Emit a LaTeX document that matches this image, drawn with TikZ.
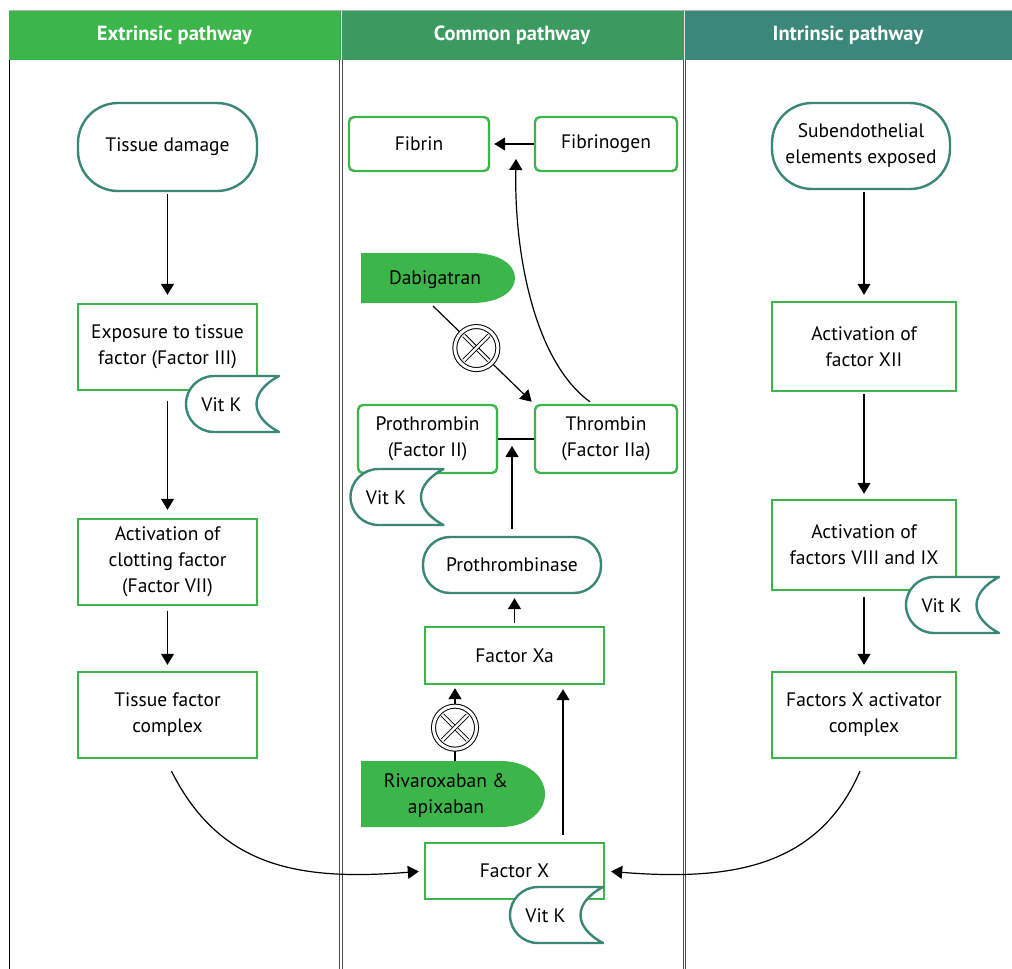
\documentclass[tikz,border=0pt]{standalone}
\usepackage{fontspec}
\setmainfont{PT Sans}
\usetikzlibrary{arrows.meta,calc}
\definecolor{cExt}{HTML}{3CB54A}
\definecolor{cCom}{HTML}{3A9A5F}
\definecolor{cInt}{HTML}{3B877A}
\definecolor{tealB}{HTML}{3A8677}
\definecolor{greenB}{HTML}{3DB54A}
\begin{document}
\begin{tikzpicture}[x=1pt,y=-1pt,
 every node/.style={font=\fontsize{19.5}{26}\selectfont, align=center, inner sep=0pt},
 gbox/.style={draw=greenB, line width=2.4pt, fill=white},
 rbox/.style={gbox, rounded corners=5pt},
 tbox/.style={draw=tealB, line width=2.4pt, fill=white},
 arr/.style={-{Triangle[length=11pt,width=13pt]}, line width=1.2pt},
 conn/.style={line width=1.2pt},
 hdr/.style={font=\fontsize{20.5}{22}\selectfont\bfseries, text=white, minimum height=49pt},
 inh/.style={circle, draw=black, double=white, double distance=3pt, line width=1pt, fill=white, minimum size=43pt},
 xl/.style={draw=black, double=white, double distance=2.4pt, line width=0.9pt},
 drug/.style={fill=cExt},
 pics/vitk/.style={code={
   \draw[tealB, line width=2.4pt, fill=white, line join=round]
     (-18.5,-28) -- (46.5,-28) .. controls (16.5,-12) and (16.5,12) .. (46.5,28)
     -- (-18.5,28) .. controls (-34,28) and (-46.5,15.5) .. (-46.5,0)
     .. controls (-46.5,-15.5) and (-34,-28) .. (-18.5,-28) -- cycle;
   \node (-t) at (-11,1) {Vit K};
 }}]
\useasboundingbox (0,0) rectangle (1012,969);
\fill[white] (0,0) rectangle (1012,969);
% header
\draw[gray!60, line width=1pt] (9,10.5) -- (1012,10.5);
\node[hdr, fill=cExt, minimum width=331pt] (h1) at (174.5,35.5) {Extrinsic pathway};
\node[hdr, fill=cCom, minimum width=344pt] (h2) at (512,35.5) {Common pathway};
\node[hdr, fill=cInt, minimum width=328pt] (h3) at (848,35.5) {Intrinsic pathway};
% lanes
\draw[line width=1pt] (9.5,60) -- (9.5,969);
\draw[draw=gray!60!black, double=white, double distance=1.6pt, line width=0.8pt] (341,60) -- (341,969);
\draw[draw=gray!60!black, double=white, double distance=1.6pt, line width=0.8pt] (684.5,60) -- (684.5,969);
\draw[white!80!gray, line width=1pt] (341,11) -- (341,60) (684.5,11) -- (684.5,60);

% extrinsic
\node[tbox, rounded corners=40pt, minimum width=179pt, minimum height=88pt] (tissue) at (167.5,147) {Tissue damage};
\node[gbox, minimum width=179pt, minimum height=86pt] (expo) at (167.5,347) {Exposure to tissue\\factor (Factor III)};
\pic (vk1) at (232.5,404) {vitk};
\node[gbox, minimum width=179pt, minimum height=86pt] (act7) at (167.5,562) {Activation of\\clotting factor\\(Factor VII)};
\node[gbox, minimum width=179pt, minimum height=86pt] (tfc) at (167.5,715) {Tissue factor\\complex};
\draw[arr, shorten <=2pt, shorten >=8pt] (tissue.south) -- (expo.north);
\draw[arr, shorten <=10pt, shorten >=8pt] (expo.south) -- (act7.north);
\draw[arr, shorten <=5pt, shorten >=6pt] (act7.south) -- (tfc.north);

% common
\node[rbox, minimum width=140pt, minimum height=54pt] (fibrin) at (419,144) {Fibrin};
\node[rbox, minimum width=142pt, minimum height=54pt] (fibrinogen) at (606,144) {Fibrinogen};
\draw[arr, shorten >=4pt] (fibrinogen.west) -- (fibrin.east);
\coordinate (fm) at ($(fibrin.east)!0.6!(fibrinogen.west)$);

\fill[drug] (361,253) -- (472,253) .. controls (500,253) and (515,265) .. (515,278)
  .. controls (515,291) and (500,303) .. (472,303) -- (361,303) -- cycle;
\node (dabi) at (435,280) {Dabigatran};
\coordinate (dabiB) at (433,306);

\node[rbox, minimum width=139pt, minimum height=68pt] (prothrombin) at (427.5,439) {Prothrombin\\(Factor II)};
\node[rbox, minimum width=142pt, minimum height=68pt] (thrombin) at (606,439) {Thrombin\\(Factor IIa)};
\draw[conn] (prothrombin.east) -- (thrombin.west);
\pic (vk2) at (397,497) {vitk};

\draw[arr, shorten >=3pt] (dabiB) -- (thrombin.north west) node[inh, pos=0.43] (inh1) {};
\draw[xl] ($(inh1.center)+(-12.5,-12.5)$) -- ($(inh1.center)+(12.5,12.5)$);
\draw[xl] ($(inh1.center)+(-12.5,12.5)$) -- ($(inh1.center)+(12.5,-12.5)$);

\draw[arr, shorten >=15pt] ($(thrombin.north)+(-16,-2)$) .. controls (535,362) and (514,255) .. (fm);

\node[tbox, rounded corners=27pt, minimum width=178pt, minimum height=56pt] (pase) at (512,565) {Prothrombinase};
\coordinate (pm) at (pase.north |- prothrombin.east);
\draw[arr, shorten <=7pt, shorten >=7pt] (pase.north) -- (pm);

\node[gbox, minimum width=179pt, minimum height=57pt] (fxa) at (514.5,655.5) {Factor Xa};
\draw[arr, shorten <=3pt, shorten >=4pt] (fxa.north) -- (fxa.north |- pase.south);

\fill[drug] (361,761) -- (500,761) .. controls (530,761) and (545,778) .. (545,794)
  .. controls (545,810) and (530,827) .. (500,827) -- (361,827) -- cycle;
\node (riva) at (446,795) {Rivaroxaban \&\\apixaban};
\coordinate (rivaT) at (455,761);
\draw[arr, shorten >=3pt] (rivaT) -- (rivaT |- fxa.south) node[inh, pos=0.44] (inh2) {};
\draw[xl] ($(inh2.center)+(-12.5,-12.5)$) -- ($(inh2.center)+(12.5,12.5)$);
\draw[xl] ($(inh2.center)+(-12.5,12.5)$) -- ($(inh2.center)+(12.5,-12.5)$);

\node[gbox, minimum width=179pt, minimum height=56pt] (fx) at (514.5,871) {Factor X};
\draw[arr, shorten <=7pt, shorten >=4pt] ([xshift=48.5pt]fx.north) -- ([xshift=48.5pt]fxa.south);
\pic (vk3) at (556.5,915) {vitk};

% intrinsic
\node[tbox, rounded corners=40pt, minimum width=178pt, minimum height=86pt] (sub) at (861,146) {Subendothelial\\elements exposed};
\node[gbox, minimum width=184pt, minimum height=89pt] (xii) at (864,346.5) {Activation of\\factor XII};
\node[gbox, minimum width=184pt, minimum height=90pt] (viii) at (864,545) {Activation of\\factors VIII and IX};
\pic (vk4) at (952.5,605) {vitk};
\node[gbox, minimum width=184pt, minimum height=86pt] (xac) at (864,715) {Factors X activator\\complex};
\draw[arr, shorten <=2pt, shorten >=6pt] (sub.south -| xii.north) -- (xii.north);
\draw[arr, shorten <=2pt, shorten >=5pt] (xii.south) -- (viii.north);
\draw[arr, shorten <=6pt, shorten >=6pt] (viii.south) -- (xac.north);

% curves to factor X
\draw[arr, shorten >=5pt] ($(tfc.south)+(4,12)$) .. controls (220,868) and (300,881) .. (fx.west);
\draw[arr, shorten >=6pt] ($(xac.south)+(-4,12)$) .. controls (818,868) and (730,881) .. (fx.east);
\end{tikzpicture}
\end{document}
